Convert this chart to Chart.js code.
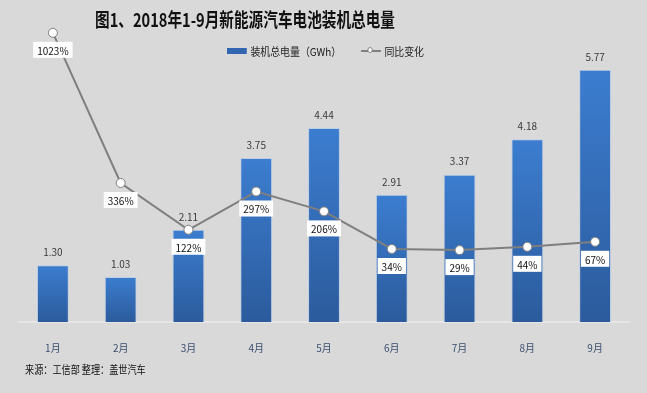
<!DOCTYPE html>
<html>
<head>
<meta charset="utf-8">
<script src="https://cdn.jsdelivr.net/npm/chart.js@4"></script>
<style>
    html, body { margin: 0; padding: 0; background: #d9d9d9; }
    #wrap { position: relative; width: 647px; height: 393px; overflow: hidden; }
    #wrap canvas { position: absolute; left: 0; top: 0; }
    .title {
        position: absolute; left: 95px; top: 5px; width: 420px;
        font: bold 19px "Noto Sans CJK SC", sans-serif; color: #111;
        white-space: nowrap; transform-origin: left top; transform: scaleX(0.77);
    }
    .legend {
        position: absolute; left: 227px; top: 41px; white-space: nowrap;
        font: 11px "Noto Sans CJK SC", sans-serif; color: #222;
        transform-origin: left top; transform: scaleX(0.9);
    }
    .legend span { display: inline-block; vertical-align: middle; }
    .swatch { width: 22px; height: 6px; background: #3266b0; margin-right: 4px; }
    .lineKey { position: relative; width: 22px; height: 2px; background: #7f7f7f; margin: 0 4px 0 22px; }
    .lineKey::after {
        content: ''; position: absolute; left: 7px; top: -3px; width: 6px; height: 6px;
        border-radius: 50%; background: #fff; border: 1px solid #7f7f7f; box-sizing: border-box;
    }
    .source {
        position: absolute; left: 25px; top: 361px; white-space: nowrap;
        font: 11px "Noto Sans CJK SC", sans-serif; color: #111;
        transform-origin: left top; transform: scaleX(0.83);
    }
</style>
</head>
<body>
<div id="wrap">
    <canvas id="batteryChart" width="647" height="393"></canvas>
    <div class="title">图1、2018年1-9月新能源汽车电池装机总电量</div>
    <div class="legend"><span class="swatch"></span><span>装机总电量（GWh）</span><span class="lineKey"></span><span>同比变化</span></div>
    <div class="source">来源：工信部 整理：盖世汽车</div>
</div>
<script>
// --- Data ---
const months = ['1月', '2月', '3月', '4月', '5月', '6月', '7月', '8月', '9月'];
const capacityGWh = [1.30, 1.03, 2.11, 3.75, 4.44, 2.91, 3.37, 4.18, 5.77];
const yoyPercent = [1023, 336, 122, 297, 206, 34, 29, 44, 67];

const cjkFont = "'Noto Sans CJK SC', sans-serif";

// per-bar vertical gradient, lighter at top
function barGradient(ctx) {
    const chart = ctx.chart;
    const yScale = chart.scales.y;
    if (!chart.chartArea || !yScale || ctx.raw === undefined) return '#3266b0';
    const top = yScale.getPixelForValue(ctx.raw);
    const bottom = yScale.getPixelForValue(0);
    const g = chart.ctx.createLinearGradient(0, top, 0, bottom);
    g.addColorStop(0, '#3c7dd0');
    g.addColorStop(1, '#2b5b9c');
    return g;
}

// --- Labels for bars and line points ---
const valueLabels = {
    id: 'valueLabels',
    afterDatasetsDraw(chart) {
        const c = chart.ctx;
        c.save();
        c.textAlign = 'center';
        c.textBaseline = 'middle';

        // bar values above each bar
        const bars = chart.getDatasetMeta(0).data;
        c.font = '10px ' + cjkFont;
        c.fillStyle = '#3a3a3a';
        bars.forEach((el, i) => {
            c.fillText(capacityGWh[i].toFixed(2), el.x, el.y - 13);
        });

        // yoy values in white boxes below each point
        const points = chart.getDatasetMeta(1).data;
        c.font = '10px ' + cjkFont;
        points.forEach((el, i) => {
            const txt = yoyPercent[i] + '%';
            const w = c.measureText(txt).width + 8;
            const h = 16;
            const cy = el.y + 17;
            c.fillStyle = '#ffffff';
            c.fillRect(el.x - w / 2, cy - h / 2, w, h);
            c.fillStyle = '#111111';
            c.fillText(txt, el.x, cy + 1);
        });
        c.restore();
    }
};

new Chart(document.getElementById('batteryChart'), {
    data: {
        labels: months,
        datasets: [
            {
                type: 'bar',
                label: '装机总电量（GWh）',
                data: capacityGWh,
                yAxisID: 'y',
                order: 1,
                backgroundColor: barGradient,
                borderColor: 'rgba(175, 200, 235, 0.7)',
                borderWidth: 1,
                categoryPercentage: 1,
                barPercentage: 0.47
            },
            {
                type: 'line',
                label: '同比变化',
                data: yoyPercent,
                yAxisID: 'y1',
                order: 0,
                borderColor: '#7f7f7f',
                borderWidth: 2,
                pointRadius: 4.5,
                pointBackgroundColor: '#ffffff',
                pointBorderColor: '#7f7f7f',
                pointBorderWidth: 1,
                tension: 0
            }
        ]
    },
    options: {
        responsive: false,
        animation: false,
        layout: { padding: { left: 19, right: 18, top: 16, bottom: 19 } },
        plugins: {
            legend: { display: false },
            title: { display: false },
            tooltip: { enabled: false }
        },
        scales: {
            x: {
                grid: { display: false, drawTicks: false },
                border: { display: true, color: '#e6e6e6', width: 2 },
                ticks: {
                    padding: 20,
                    color: '#3b4e6e',
                    font: { size: 10, family: cjkFont }
                }
            },
            y: { display: false, min: 0, max: 7 },
            y1: { display: false, position: 'right', min: -300, max: 1100 }
        }
    },
    plugins: [valueLabels]
});
</script>
</body>
</html>
